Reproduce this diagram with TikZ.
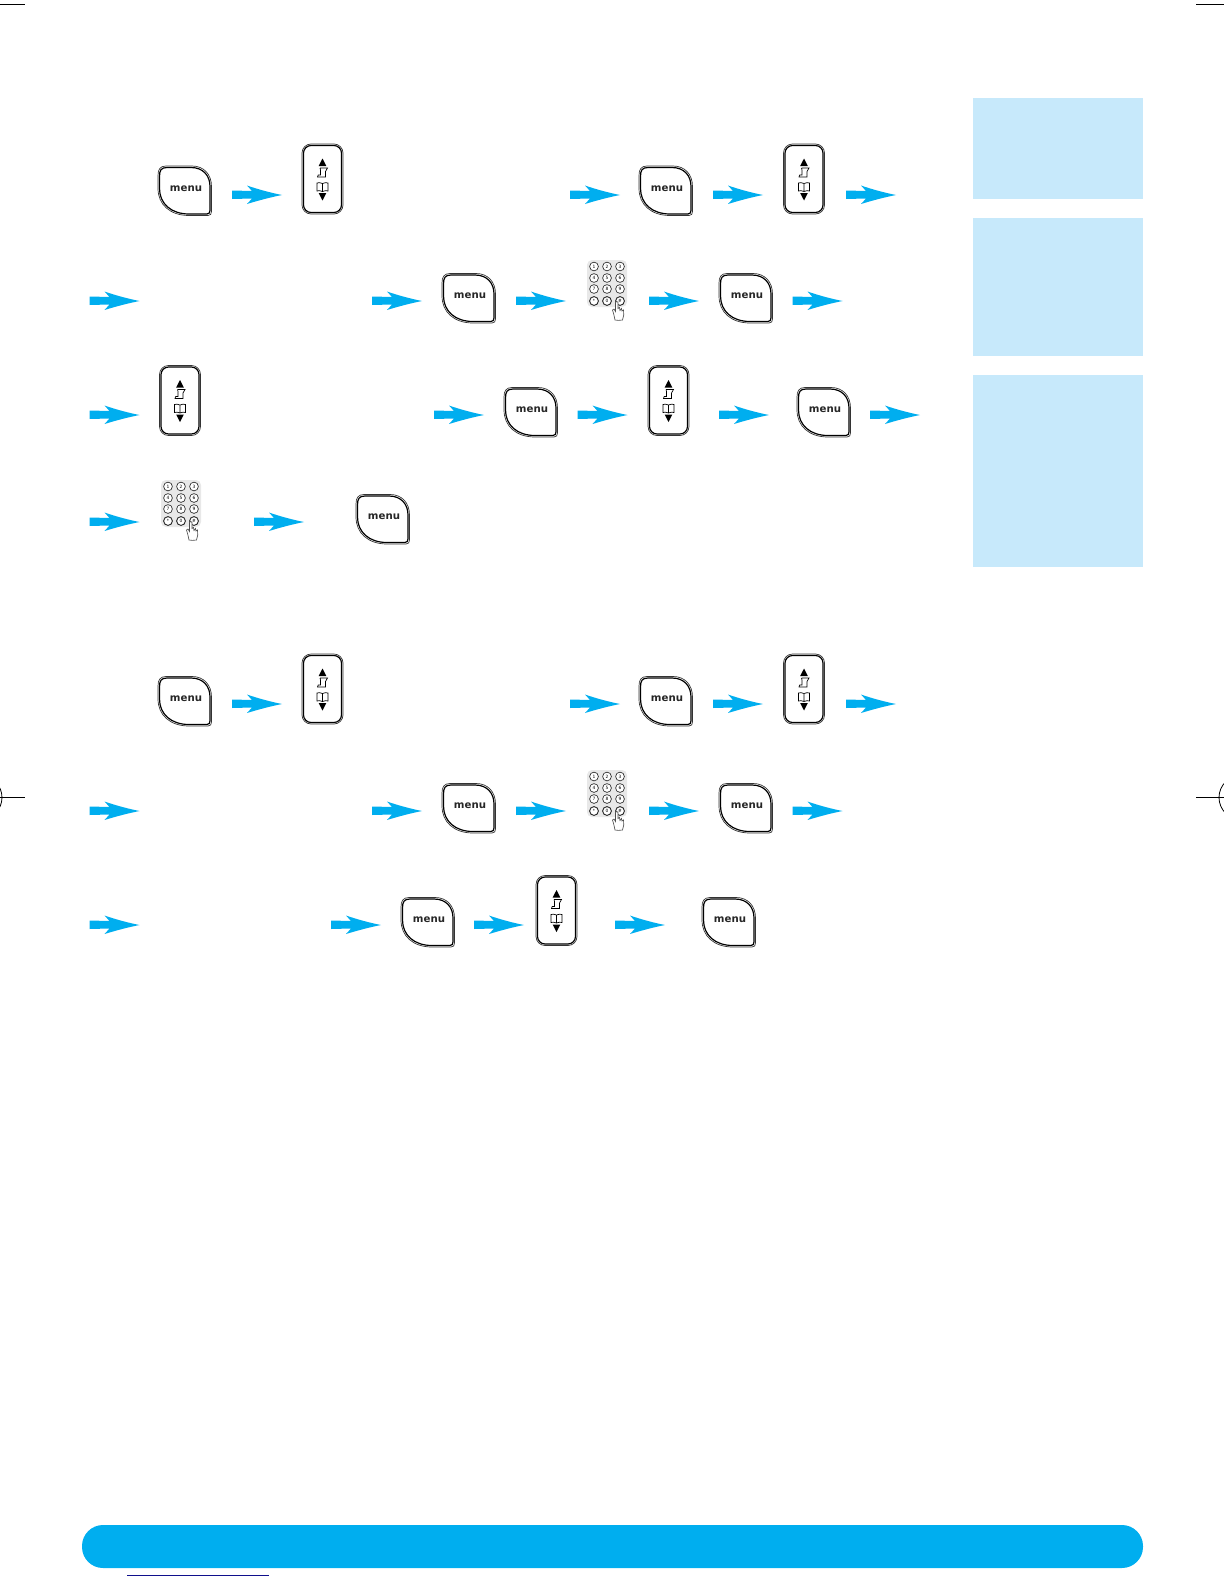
\documentclass[tikz,border=0pt]{standalone}
\usepackage{fontspec}
\setmainfont{DejaVu Sans}
\definecolor{cyanbar}{HTML}{00AEEF}
\definecolor{panelblue}{HTML}{C7E9FB}
\definecolor{linkblue}{HTML}{10108C}
\definecolor{keygrey}{HTML}{E8E8E8}
\tikzset{
  x=0.5pt,y=-0.5pt,
  panel/.style={fill=panelblue,draw=none},
  barstyle/.style={fill=cyanbar,draw=none,rounded corners=10.5pt},
  crop/.style={draw=black,line width=0.4pt},
  keyout/.style={draw=black!80,line width=0.35pt},
  keyin/.style={draw=black,line width=0.6pt},
  glyph/.style={fill=black,draw=none},
  thinglyph/.style={draw=black,line width=0.35pt,fill=none},
  menutext/.style={font=\fontsize{5.1pt}{6pt}\selectfont\bfseries,inner sep=0pt,text=black!85},
  padkey/.style={circle,draw=black!85,line width=0.32pt,fill=white,inner sep=0pt,minimum size=4.4pt,font=\fontsize{2.2pt}{3pt}\selectfont},
  padkeydark/.style={padkey,line width=0.45pt},
  menupic/.pic={
    \path[keyin] (-25.5,-14) .. controls (-25.5,-20) and (-24,-23) .. (-18,-23)
      -- (6,-23) .. controls (18,-23) and (25,-15) .. (25,-4)
      -- (25,20) .. controls (25,22) and (24,23.5) .. (22,23.5)
      -- (4,23.5) .. controls (-14,23.5) and (-25.5,13) .. (-25.5,-2) -- cycle;
    \path[keyout] (-27,-15) .. controls (-27,-21) and (-25,-24.5) .. (-19,-24.5)
      -- (7,-24.5) .. controls (19,-24.5) and (26.5,-16) .. (26.5,-4)
      -- (26.5,21) .. controls (26.5,23.5) and (25.5,25) .. (23,25)
      -- (4,25) .. controls (-15,25) and (-27,14) .. (-27,-2) -- cycle;
    \node[menutext] (lbl) at (1,-2) {menu};
  },
  scrollpic/.pic={
    \draw[keyout,rounded corners=4.5pt] (-20.5,-35) rectangle (20.5,35);
    \draw[keyin,rounded corners=3.8pt] (-19,-33.5) rectangle (19,33.5);
    \fill[glyph] (0,-20.5) -- (3.8,-13) -- (-3.8,-13) -- cycle;
    \draw[thinglyph] (-2.5,-11) -- (5,-11) -- (3,-7.5) -- (3,-2) -- (-5,-2)
       .. controls (-6,-4) and (-3,-5) .. (-2,-4) -- (-2,-9) .. controls (-2,-10) and (-3,-10.5) .. (-2.5,-11);
    \draw[thinglyph] (0,4.5) .. controls (-2,3.5) and (-4,3.5) .. (-5.5,4) -- (-5.5,12)
       .. controls (-4,11.5) and (-2,11.5) .. (0,12.5) .. controls (2,11.5) and (4,11.5) .. (5.5,12) -- (5.5,4)
       .. controls (4,3.5) and (2,3.5) .. (0,4.5) -- cycle (0,4.5) -- (0,12.5);
    \fill[glyph] (0,21.5) -- (3.8,14) -- (-3.8,14) -- cycle;
  },
  padpic/.pic={
    \fill[keygrey,rounded corners=2.5pt] (-20,-23.5) rectangle (20,23.5);
    \foreach \r/\a/\b/\c [count=\i] in {-17/1/2/3,-5.5/4/5/6,5.5/7/8/9}{
      \node[padkey] (ka\i) at (-13,\r) {\a};
      \node[padkey] (kb\i) at (0,\r) {\b};
      \node[padkey] (kc\i) at (13,\r) {\c};
    }
    \node[padkeydark] (kstar) at (-13,17.5) {*};
    \node[padkeydark] (kzero) at (0,17.5) {0};
    \node[padkeydark] (khash) at (13,17.5) {\#};
    \draw[draw=black!70,line width=0.32pt,fill=white] (8,36.5) .. controls (7,32) and (6.5,29) .. (5.5,26.5)
       -- (7,25.5) -- (8.5,28) -- (8.5,19) .. controls (9,17.5) and (10.5,17.5) .. (11,19) -- (11,25)
       -- (12.5,24) -- (13,27) -- (14.5,25) -- (15,27.5) -- (16.5,26.5) .. controls (17.5,30) and (16.5,33) .. (15.5,36.5) .. controls (13,37) and (10,37) .. (8,36.5) -- cycle;
  },
  flowarrow/.pic={
    \fill[cyanbar] (0,-4.5) -- (20,-4) -- (15,-9.5) .. controls (28,-5) and (40,-2) .. (50,0)
      .. controls (40,2) and (28,5) .. (15,9) -- (20,3.5) -- (0,4) -- cycle;
  }
}
\begin{document}
\begin{tikzpicture}
\useasboundingbox (0,0) rectangle (1224,1584);
% side panels
\fill[panel] (973,98) rectangle (1143,199);
\fill[panel] (973,218) rectangle (1143,355.5);
\fill[panel] (973,375) rectangle (1143,567);
% bottom bar
\fill[barstyle] (82,1525) rectangle (1143,1568);
\draw[linkblue,line width=0.5pt] (127,1575.5) -- (269,1575.5);
% crop marks
\draw[crop] (0,4.5) -- (25,4.5);
\draw[crop] (1196,4.5) -- (1224,4.5);
\draw[crop] (0,797.5) -- (25,797.5);
\draw[crop] (1196,797.5) -- (1224,797.5);
\draw[crop] (-20,797.5) circle (22);
\draw[crop] (1241,797.5) circle (22);
% menu keys
\foreach \n/\px/\py in {a/185/190.5,b/666/190.5,c/469/298,d/746/298,e/531/412,f/824/412,g/383/519,h/185/701,i/666/701,j/469/808,k/746/808,l/428/922,m/729/922}
  \pic (menu\n) at (\px,\py) {menupic};
% scroll keys
\foreach \n/\px/\py in {a/322.5/179,b/804/179,c/180/400.5,d/668.5/400.5,e/322.5/689,f/804/689,g/556.5/910.5}
  \pic (scroll\n) at (\px,\py) {scrollpic};
% keypads
\foreach \n/\px/\py in {a/607/283.5,b/181/503.5,c/607/793.5}
  \pic (pad\n) at (\px,\py) {padpic};
% arrows
\foreach \px/\py in {232/195,570/195,713/195,846/195,
  89.5/301,372/301,516/301,649/301,792.5/301,
  89.5/415,434/415,577.5/415,719/415,870/415,
  89.5/522,254/522,
  232/704,570/704,713/704,846/704,
  89.5/811,372/811,516/811,649/811,792.5/811,
  89.5/925,331/925,474/925,615/925}
  \pic at (\px,\py) {flowarrow};
\end{tikzpicture}
\end{document}
